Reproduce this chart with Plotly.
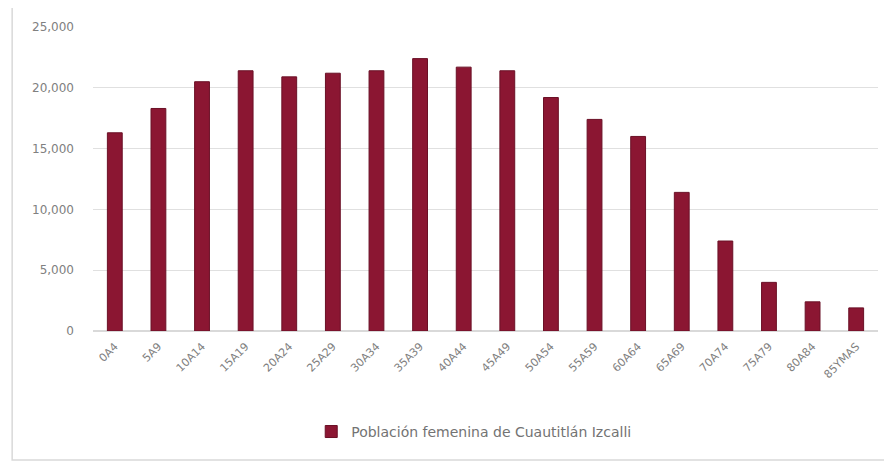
import plotly.graph_objects as go

grupos = ["0A4", "5A9", "10A14", "15A19", "20A24", "25A29", "30A34", "35A39", "40A44",
          "45A49", "50A54", "55A59", "60A64", "65A69", "70A74", "75A79", "80A84", "85YMAS"]
mujeres = [16300, 18300, 20500, 21400, 20900, 21200, 21400, 22400, 21700,
           21400, 19200, 17400, 16000, 11400, 7400, 4000, 2400, 1900]
y_ticks = [0, 5000, 10000, 15000, 20000, 25000]

FONT = "DejaVu Sans"
GRIS = "#808080"

fig = go.Figure()
fig.add_trace(go.Bar(
    x=grupos, y=mujeres,
    name="Población femenina de Cuautitlán Izcalli",
    marker=dict(color="#8b1632", line=dict(color="#6a1026", width=1)),
))

# the page body has an 8px margin, so the figure is a bit smaller
fig.update_layout(
    width=884, height=455,
    margin=dict(l=85, r=14, t=19, b=132),
    paper_bgcolor="white", plot_bgcolor="white",
    bargap=0.66,
    font=dict(family=FONT, size=11, color=GRIS),
    showlegend=True,
    legend=dict(orientation="h", x=0.485, xanchor="center", y=-0.332, yanchor="middle",
                itemwidth=30, font=dict(size=14, color="#737373")),
    xaxis=dict(tickangle=-45, tickfont=dict(size=11, color=GRIS), showgrid=False,
               showline=False, ticks="", ticklabelstandoff=6),
    yaxis=dict(range=[0, 25000], tickvals=y_ticks, tickformat=",", showgrid=True,
               gridcolor="#e0e0e0", zeroline=True, zerolinecolor="#d9d9d9",
               tickfont=dict(size=12, color=GRIS), ticks="", ticklabelstandoff=18),
    shapes=[dict(type="rect", xref="paper", yref="paper", x0=-0.103, x1=1.03,
                 y0=-0.424, y1=1.072, line=dict(color="#d9d9d9", width=1.5))],
)

fig.write_html("out.html")
